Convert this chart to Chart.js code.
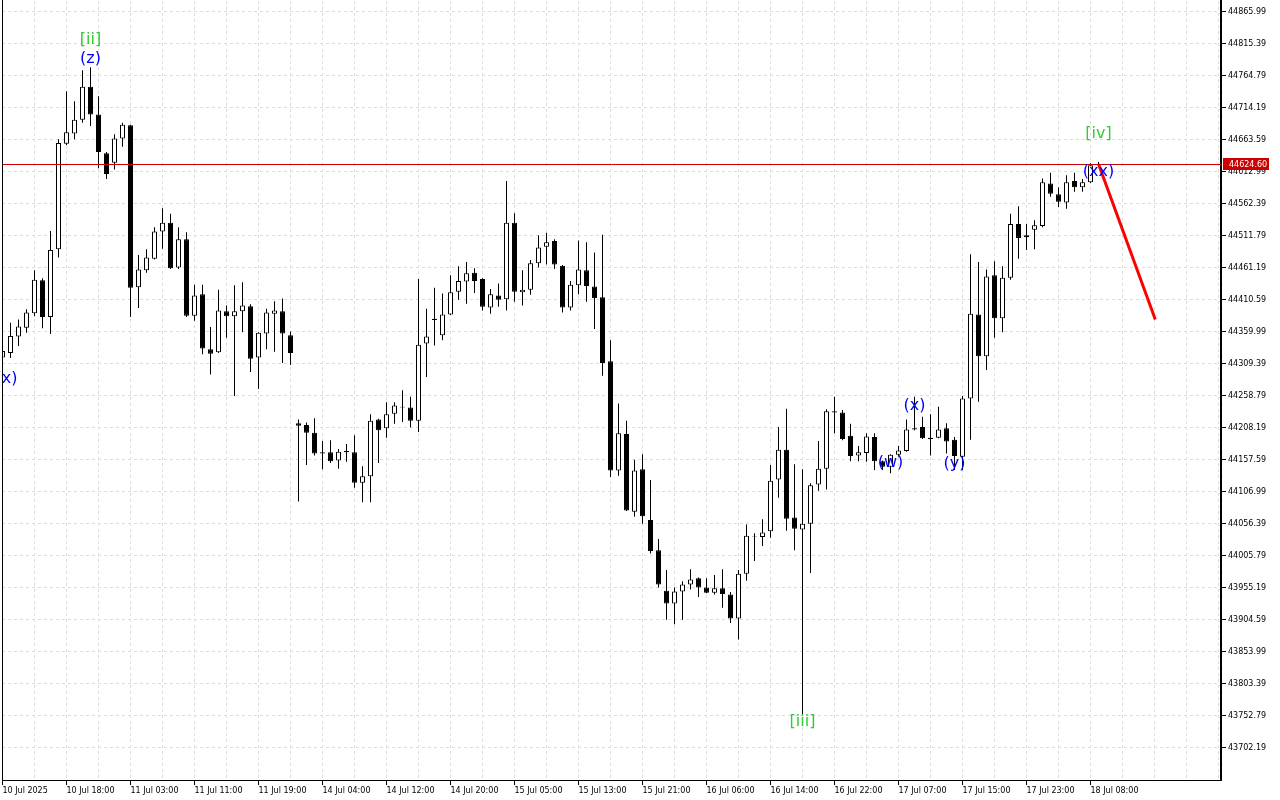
<!DOCTYPE html>
<html>
<head>
<meta charset="utf-8">
<script src="https://cdn.jsdelivr.net/npm/chart.js@4.4.1/dist/chart.umd.min.js"></script>
<style>
  html, body { margin: 0; padding: 0; background: #fff; }
</style>
</head>
<body>
<canvas id="chart" width="1280" height="800"></canvas>
<script>
// time axis labels, one every 8 bars
var timeLabels = ['10 Jul 2025', '10 Jul 18:00', '11 Jul 03:00', '11 Jul 11:00', '11 Jul 19:00',
  '14 Jul 04:00', '14 Jul 12:00', '14 Jul 20:00', '15 Jul 05:00', '15 Jul 13:00', '15 Jul 21:00',
  '16 Jul 06:00', '16 Jul 14:00', '16 Jul 22:00', '17 Jul 07:00', '17 Jul 15:00', '17 Jul 23:00',
  '18 Jul 08:00'];

// hourly bars
var open = [44319,44326,44352,44366,44389,44441,44383,44490,44657,44673,
  44695,44747,44703,44642,44627,44665,44686,44430,44457,44475,
  44518,44532,44461,44506,44385,44419,44332,44327,44392,44384,
  44392,44400,44319,44357,44388,44392,44354,44215,44212,44200,
  44169,44169,44156,44171,44169,44121,44131,44221,44207,44230,
  44241,44240,44219,44341,44380,44354,44387,44423,44439,44453,
  44443,44398,44417,44411,44532,44422,44426,44468,44494,44503,
  44464,44398,44433,44457,44431,44414,44313,44140,44198,44075,
  44142,44062,44014,43950,43930,43949,43960,43970,43955,43947,
  43954,43944,43906,43977,44036,44035,44044,44126,44173,44066,
  44047,44056,44118,44143,44234,44232,44195,44164,44168,44193,
  44155,44146,44165,44171,44207,44209,44192,44192,44207,44189,
  44162,44254,44387,44321,44449,44381,44445,44530,44509,44521,
  44527,44594,44577,44564,44598,44588,44596,44623];
var high = [44338,44374,44379,44395,44457,44444,44519,44664,44740,44724,
  44773,44778,44732,44644,44672,44690,44687,44481,44490,44525,
  44555,44546,44525,44517,44434,44434,44367,44426,44401,44433,
  44438,44403,44359,44396,44408,44412,44360,44221,44216,44223,
  44187,44188,44174,44182,44196,44147,44229,44222,44248,44248,
  44267,44257,44443,44396,44429,44420,44449,44463,44470,44460,
  44444,44427,44436,44598,44547,44457,44473,44512,44516,44506,
  44465,44440,44504,44501,44485,44513,44346,44246,44219,44157,
  44166,44125,44032,43983,43955,43965,43984,43971,43970,43975,
  43984,43948,43983,44055,44041,44063,44149,44209,44238,44150,
  44142,44120,44187,44237,44257,44236,44214,44179,44199,44199,
  44156,44166,44179,44221,44257,44225,44229,44241,44215,44193,
  44258,44482,44470,44458,44471,44463,44546,44558,44530,44536,
  44602,44611,44588,44607,44611,44601,44626,44628];
var low = [44316,44318,44337,44358,44384,44365,44356,44477,44655,44664,
  44690,44685,44618,44601,44616,44652,44383,44397,44453,44474,
  44491,44459,44459,44383,44377,44324,44292,44326,44350,44258,
  44359,44296,44269,44332,44328,44310,44307,44091,44149,44164,
  44142,44152,44143,44154,44113,44090,44090,44152,44192,44214,
  44217,44208,44201,44288,44338,44346,44386,44410,44404,44421,
  44393,44388,44399,44393,44407,44401,44418,44461,44466,44459,
  44390,44393,44419,44407,44364,44290,44130,44132,44076,44067,
  44056,44009,43955,43904,43897,43904,43952,43940,43946,43944,
  43923,43899,43873,43966,43997,44021,44034,44097,44045,44014,
  43753,43978,44108,44110,44199,44188,44155,44155,44154,44141,
  44141,44136,44162,44170,44204,44190,44164,44191,44167,44141,
  44141,44189,44249,44299,44350,44359,44442,44475,44489,44490,
  44525,44573,44557,44554,44581,44581,44595,44621];
var close = [44329,44353,44368,44390,44442,44383,44489,44658,44675,44695,
  44747,44703,44644,44609,44665,44687,44429,44458,44477,44518,
  44532,44460,44506,44385,44417,44333,44325,44393,44384,44392,
  44401,44317,44358,44390,44393,44357,44326,44211,44200,44167,
  44167,44155,44170,44169,44121,44131,44219,44204,44229,44243,
  44240,44219,44339,44352,44378,44387,44422,44440,44452,44440,
  44399,44419,44410,44532,44423,44426,44468,44493,44501,44466,
  44398,44434,44458,44432,44413,44310,44140,44199,44077,44140,
  44068,44013,43960,43930,43949,43960,43968,43955,43947,43954,
  43945,43906,43977,44037,44035,44042,44124,44173,44064,44048,
  44056,44117,44143,44234,44232,44190,44163,44169,44194,44155,
  44146,44165,44172,44205,44205,44191,44190,44205,44186,44163,
  44254,44388,44321,44447,44381,44445,44530,44508,44512,44528,
  44596,44578,44565,44596,44588,44596,44623,44625];

// price scale labels
var priceTicks = [44865.99,44815.39,44764.79,44714.19,44663.59,44612.99,44562.39,44511.79,
  44461.19,44410.59,44359.99,44309.39,44258.79,44208.19,44157.59,44106.99,44056.39,44005.79,
  43955.19,43904.59,43853.99,43803.39,43752.79,43702.19];

var bidPrice = 44624.60;

// forecast arrow (bar index, price)
var forecastBars = [137, 144.1];
var forecastPrices = [44625, 44379];

// wave marks
var waveText  = ['(x)', '[ii]', '(z)', '[iii]', '(w)', '(x)', '(y)', '[iv]', '(xx)'];
var waveBar   = [0.5, 11, 11, 100, 111, 114, 119, 137, 137];
var wavePrice = [44285, 44821, 44791, 43742, 44152, 44242, 44150, 44672, 44612];

var GREEN = '#32cd32';
var BLUE = '#0000ff';

var bodies = [], wicks = [], bodyColors = [];
for (var i = 0; i < open.length; i++) {
  bodies.push({x: i, y: [open[i], close[i]]});
  wicks.push({x: i, y: [low[i], high[i]]});
  bodyColors.push(close[i] >= open[i] ? '#ffffff' : '#000000');
}
var forecast = forecastBars.map(function (b, k) { return {x: b, y: forecastPrices[k]}; });

var overlay = {
  id: 'overlay',
  afterDatasetsDraw: function (chart) {
    var ctx = chart.ctx, xs = chart.scales.x, ys = chart.scales.y, a = chart.chartArea;
    var by = Math.floor(ys.getPixelForValue(bidPrice)) + 0.5;
    ctx.save();
    ctx.strokeStyle = '#cc0000';
    ctx.lineWidth = 1;
    ctx.beginPath();
    ctx.moveTo(a.left, by);
    ctx.lineTo(a.right, by);
    ctx.stroke();

    ctx.font = '16px "DejaVu Sans"';
    ctx.textAlign = 'center';
    ctx.textBaseline = 'middle';
    for (var k = 0; k < waveText.length; k++) {
      ctx.fillStyle = waveText[k].charAt(0) === '[' ? GREEN : BLUE;
      ctx.fillText(waveText[k], xs.getPixelForValue(waveBar[k]), ys.getPixelForValue(wavePrice[k]));
    }
    ctx.restore();
  },
  afterDraw: function (chart) {
    var ctx = chart.ctx, ys = chart.scales.y, a = chart.chartArea;
    var by = Math.floor(ys.getPixelForValue(bidPrice)) + 0.5;
    ctx.save();
    ctx.strokeStyle = '#000';
    ctx.lineWidth = 1;
    ctx.beginPath();
    ctx.moveTo(a.left + 0.5, 0);
    ctx.lineTo(a.left + 0.5, a.bottom);
    ctx.stroke();

    ctx.fillStyle = '#cc0000';
    ctx.fillRect(a.right + 2, by - 6.5, 46, 12);
    ctx.fillStyle = '#ffffff';
    ctx.font = '8px "DejaVu Sans"';
    ctx.textAlign = 'left';
    ctx.textBaseline = 'middle';
    ctx.fillText(bidPrice.toFixed(2), a.right + 8, by);
    ctx.restore();
  }
};

Chart.defaults.font.family = '"DejaVu Sans"';
Chart.defaults.font.size = 8;
Chart.defaults.color = '#000';

var ctx = document.getElementById('chart').getContext('2d');
var myChart = new Chart(ctx, {
  type: 'bar',
  data: {
    datasets: [{
      type: 'line',
      data: forecast,
      borderColor: '#ff0000',
      borderWidth: 3,
      pointRadius: 0,
      order: 0
    }, {
      type: 'bar',
      data: bodies,
      backgroundColor: bodyColors,
      borderColor: '#000',
      borderWidth: 1,
      borderSkipped: false,
      barThickness: 5,
      grouped: false,
      inflateAmount: 0,
      order: 1
    }, {
      type: 'bar',
      data: wicks,
      backgroundColor: '#000',
      borderWidth: 0,
      barThickness: 1,
      grouped: false,
      inflateAmount: 0,
      order: 2
    }]
  },
  options: {
    responsive: false,
    animation: false,
    events: [],
    layout: { autoPadding: false, padding: { left: 2, top: 1, right: 0, bottom: 0 } },
    plugins: { legend: { display: false }, tooltip: { enabled: false } },
    scales: {
      x: {
        type: 'linear',
        min: -0.0625,
        max: 152.3125,
        offset: false,
        afterBuildTicks: function (s) {
          var t = [];
          for (var v = 0; v <= 152; v += 4) t.push({value: v});
          s.ticks = t;
        },
        afterFit: function (s) {
          s.height = 20;
          s.paddingLeft = 0;
          s.paddingRight = 0;
        },
        grid: {
          offset: false,
          color: '#dcdcdc',
          tickLength: 5,
          tickColor: function (c) {
            var v = c.tick ? c.tick.value : 1;
            return (v % 8 === 0 && v / 8 < timeLabels.length) ? '#000' : 'rgba(0,0,0,0)';
          }
        },
        border: { color: '#000', width: 1, dash: [3, 3] },
        ticks: {
          autoSkip: false,
          maxRotation: 0,
          align: 'start',
          padding: 1,
          callback: function (v) {
            return (v % 8 === 0 && v / 8 < timeLabels.length) ? timeLabels[v / 8] : '';
          }
        }
      },
      y: {
        position: 'right',
        min: 43650.80,
        max: 44882.59,
        afterBuildTicks: function (s) {
          s.ticks = priceTicks.map(function (v) { return {value: v}; });
        },
        afterFit: function (s) {
          s.width = 59;
          s.paddingTop = 0;
          s.paddingBottom = 0;
        },
        grid: { color: '#dcdcdc', tickLength: 5, tickColor: '#000' },
        border: { color: '#000', width: 2, dash: [3, 3] },
        ticks: {
          padding: 2,
          callback: function (v) { return v.toFixed(2); }
        }
      }
    }
  },
  plugins: [overlay]
});
</script>
</body>
</html>
